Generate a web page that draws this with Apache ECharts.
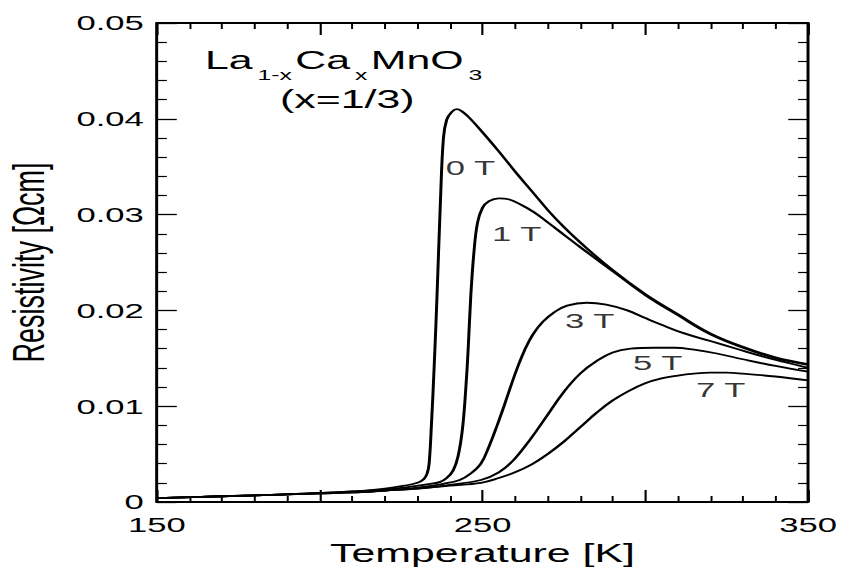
<!DOCTYPE html>
<html><head><meta charset="utf-8">
<script src="https://cdn.jsdelivr.net/npm/echarts@6/dist/echarts.min.js"></script>
<style>
html,body{margin:0;padding:0;background:#fff;overflow:hidden;width:841px;height:575px}
#wrap{width:510px;height:575px;transform:scaleX(1.64902);transform-origin:0 0;}
</style></head><body><div id="wrap"></div>
<script>
// ---- data (temperature in K, resistivity in Ohm cm) ----
const T_0T = [150,170,190,210,220,226,230,232,233,233.6,234.3,235.2,236.1,237.1,238,239,240.5,242.2,244,246,250,255,260,265,270,275,280,290,300,310,320,330,340,350];
const R_0T = [0.0004,0.0006,0.0008,0.0011,0.0014,0.0017,0.0020,0.0024,0.0030,0.0040,0.0080,0.0145,0.0222,0.0316,0.0380,0.0399,0.0407,0.0410,0.0407,0.0401,0.0386,0.0366,0.0345,0.0325,0.0305,0.0287,0.0271,0.0242,0.0217,0.0196,0.0176,0.0162,0.0151,0.0144];

const T_1T = [150,170,190,210,220,228,234,237,239,241,242.5,243.8,244.8,245.6,246.4,247.4,248.5,250,252,255,258,262,266,270,275,280,290,300,310,320,330,340,350];
const R_1T = [0.0004,0.0006,0.0008,0.0011,0.0013,0.0016,0.0019,0.0021,0.0025,0.0033,0.0048,0.0075,0.0115,0.0160,0.0215,0.0262,0.0292,0.0307,0.0314,0.0317,0.0316,0.0310,0.0302,0.0292,0.0279,0.0266,0.0241,0.0216,0.0195,0.0175,0.0161,0.0150,0.0143];

const T_3T = [150,170,190,210,220,230,238,243,246.5,249.5,252,254.5,256.6,258.6,260.7,263,265.5,268.5,272,276,282,288,294.5,300,305,312,320,328,336,343,350];
const R_3T = [0.0004,0.0006,0.0008,0.0010,0.0012,0.0015,0.0019,0.0023,0.0030,0.0040,0.0058,0.0080,0.0100,0.0120,0.0140,0.0159,0.0175,0.0188,0.0198,0.0205,0.0208,0.0206,0.0200,0.0192,0.0185,0.0176,0.0168,0.0160,0.0152,0.0146,0.0140];

const T_5T = [150,170,190,210,220,230,240,249.5,255,259.6,264.8,270,275,280,285,290,295.5,302.7,309,315,322,330,340,350];
const R_5T = [0.0004,0.0006,0.0008,0.0010,0.0012,0.0014,0.0018,0.0023,0.0031,0.0044,0.0066,0.0091,0.0115,0.0134,0.0147,0.0156,0.0160,0.0161,0.0161,0.0159,0.0155,0.0149,0.0142,0.0136];

const T_7T = [150,170,190,210,220,230,240,249.5,255,260,265,270,275,280,285,290,295,300,305,310,315,320,325,330,340,350];
const R_7T = [0.0004,0.0006,0.0008,0.0010,0.0012,0.0014,0.0017,0.0020,0.0025,0.0031,0.0039,0.0050,0.0063,0.0078,0.0093,0.0106,0.0116,0.0124,0.0129,0.0132,0.0134,0.0135,0.0135,0.0134,0.0131,0.0127];

const seriesNames = ['0 T','1 T','3 T','5 T','7 T'];
const labelT   = [246.3, 260.5, 282.9, 303.8, 323.2];
const labelRho = [0.0349, 0.0280, 0.0189, 0.0145, 0.0117];

const xTickLabels = ['150','250','350'];
const yTickLabels = ['0','0.01','0.02','0.03','0.04','0.05'];

// ---- chart ----
const FONT = '"Liberation Sans", Arial, Helvetica, sans-serif';
const chart = echarts.init(document.getElementById('wrap'), null, {renderer:'svg'});
const pairs = (t, r) => t.map((v, i) => [v, r[i]]);
const allT = [T_0T, T_1T, T_3T, T_5T, T_7T];
const allR = [R_0T, R_1T, R_3T, R_5T, R_7T];

const lineSeries = seriesNames.map((n, k) => ({
  name: n, type: 'line', xAxisIndex: 0, yAxisIndex: 0,
  data: pairs(allT[k], allR[k]),
  showSymbol: false, symbol: 'none', smooth: 0.4,
  lineStyle: {color: '#000', width: 1.8}, animation: false, silent: true, z: 3
}));

const annot = {
  type: 'scatter', xAxisIndex: 0, yAxisIndex: 0, symbolSize: 1, silent: true, animation: false,
  itemStyle: {color: 'rgba(0,0,0,0)'},
  data: seriesNames.map((n, i) => [labelT[i], labelRho[i], n]),
  label: {show: true, position: 'inside', formatter: p => p.data[2], color: '#000', fontSize: 21, fontFamily: FONT}, z: 4
};

const axisLine = {show: true, onZero: false, lineStyle: {color: '#000', width: 1.8}};
const tick = {show: true, inside: true, length: 12, lineStyle: {color: '#000', width: 1.3}};
const minor = {show: true, splitNumber: 5, length: 6, lineStyle: {color: '#000', width: 1.2}};

const xBase = {type: 'value', min: 150, max: 350, interval: 50, axisLine, axisTick: tick, minorTick: minor,
  splitLine: {show: false}, minorSplitLine: {show: false}};
const yBase = {type: 'value', min: 0, max: 0.05, interval: 0.01, axisLine, axisTick: tick, minorTick: minor,
  splitLine: {show: false}, minorSplitLine: {show: false}};

// formula text (La1-xCaxMnO3) built from pieces
const mctx = document.createElement('canvas').getContext('2d');
function tw(t, s) { mctx.font = s + 'px "Liberation Sans"'; return mctx.measureText(t).width; }
const MAIN = 26, SUB = 15;
const pieces = [['La',0],['1-x',1],['Ca',0],['x',1],['MnO',0],['3',1]];
const formula = [];
let cx = 124.3;
pieces.forEach(([t, s]) => {
  const size = s ? SUB : MAIN;
  formula.push({type: 'text', x: cx, y: s ? 75 : 60, silent: true,
    style: {text: t, font: size + 'px ' + FONT, fill: '#000', textVerticalAlign: 'middle', verticalAlign: 'middle', textAlign: 'left', align: 'left'}});
  cx += tw(t, size) + (s ? 2 : 3);
});
formula.push({type: 'text', x: 169.8, y: 99, silent: true,
  style: {text: '(x=1/3)', font: MAIN + 'px ' + FONT, fill: '#000', textVerticalAlign: 'middle', verticalAlign: 'middle', textAlign: 'left', align: 'left'}});

chart.setOption({
  backgroundColor: '#fff',
  animation: false,
  grid: {left: 95.2, right: 20, top: 23, bottom: 73, containLabel: false, outerBoundsMode: 'none'},
  xAxis: [
    Object.assign({}, xBase, {position: 'bottom',
      axisLabel: {show: true, color: '#000', fontSize: 21, fontFamily: FONT, margin: 12, showMinLabel: true, showMaxLabel: true,
        formatter: v => xTickLabels.includes(String(v)) ? String(v) : ''},
      name: 'Temperature [K]', nameLocation: 'middle', nameGap: 36,
      nameTextStyle: {fontSize: 26, color: '#000', fontFamily: FONT}}),
    Object.assign({}, xBase, {position: 'top', axisLabel: {show: false}})
  ],
  yAxis: [
    Object.assign({}, yBase, {position: 'left',
      axisLabel: {show: true, color: '#000', fontSize: 21, fontFamily: FONT, margin: 8, showMinLabel: true, showMaxLabel: true,
        formatter: v => yTickLabels[Math.round(v / 0.01)]},
      name: 'Resistivity [Ωcm]', nameLocation: 'middle', nameGap: 64,
      nameTextStyle: {fontSize: 27, color: '#000', fontFamily: FONT}}),
    Object.assign({}, yBase, {position: 'right', axisLabel: {show: false}})
  ],
  graphic: formula,
  series: lineSeries.concat([annot])
});
</script></body></html>
